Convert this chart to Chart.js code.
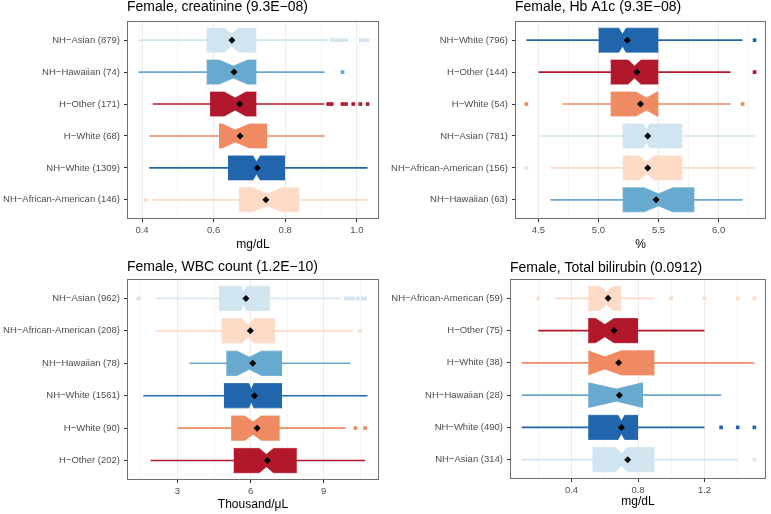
<!DOCTYPE html>
<html><head><meta charset="utf-8">
<script src="https://cdn.jsdelivr.net/npm/chart.js@4.4.1/dist/chart.umd.min.js"></script>
<style>
html,body{margin:0;padding:0;background:#fff;}
#wrap{position:relative;width:771px;height:514px;overflow:hidden;background:#fff;}
.p{position:absolute;}
canvas{display:block;}
</style></head><body>
<div id="wrap">
<div class="p" style="left:0;top:0;width:385px;height:257px"><canvas id="c1" width="385" height="257"></canvas></div>
<div class="p" style="left:385px;top:0;width:386px;height:257px"><canvas id="c2" width="386" height="257"></canvas></div>
<div class="p" style="left:0;top:257px;width:385px;height:257px"><canvas id="c3" width="385" height="257"></canvas></div>
<div class="p" style="left:385px;top:257px;width:386px;height:257px"><canvas id="c4" width="386" height="257"></canvas></div>
</div>
<script>
// ---------- group colours (RdBu) ----------
const ASIAN = '#D1E5F0', HAWAIIAN = '#67A9CF', HOTHER = '#B2182B', HWHITE = '#EF8A62', NHWHITE = '#2166AC', AFAM = '#FDDBC7';

// ---------- Panel 1: creatinine ----------
const title1 = 'Female, creatinine (9.3E\u221208)';
const xTitle1 = 'mg/dL';
const cats1 = ['NH\u2212Asian (879)', 'NH\u2212Hawaiian (74)', 'H\u2212Other (171)', 'H\u2212White (68)', 'NH\u2212White (1309)', 'NH\u2212African-American (146)'];
const colors1 = [ASIAN, HAWAIIAN, HOTHER, HWHITE, NHWHITE, AFAM];
const lo1 = [0.39, 0.39, 0.43, 0.42, 0.42, 0.43];
const q1_1 = [0.58, 0.58, 0.59, 0.615, 0.64, 0.67];
const notchLo1 = [0.63, 0.615, 0.63, 0.625, 0.71, 0.71];
const med1 = [0.65, 0.655, 0.66, 0.66, 0.72, 0.75];
const notchHi1 = [0.67, 0.695, 0.69, 0.70, 0.73, 0.79];
const q3_1 = [0.72, 0.72, 0.72, 0.75, 0.80, 0.84];
const hi1 = [0.92, 0.91, 0.91, 0.91, 1.03, 1.03];
const mean1 = [0.651, 0.657, 0.673, 0.674, 0.722, 0.746];
const out1 = [[0.93, 0.94, 0.95, 0.96, 0.97, 1.01, 1.02, 1.03], [0.96], [0.92, 0.93, 0.96, 0.97, 0.99, 1.01, 1.03], [], [], [0.41]];
const xMajor1 = [0.4, 0.6, 0.8, 1.0];
const xLabels1 = ['0.4', '0.6', '0.8', '1.0'];
const xMinor1 = [0.5, 0.7, 0.9];

// ---------- Panel 2: Hb A1c ----------
const title2 = 'Female, Hb A1c (9.3E\u221208)';
const xTitle2 = '%';
const cats2 = ['NH\u2212White (796)', 'H\u2212Other (144)', 'H\u2212White (54)', 'NH\u2212Asian (781)', 'NH\u2212African-American (156)', 'NH\u2212Hawaiian (63)'];
const colors2 = [NHWHITE, HOTHER, HWHITE, ASIAN, AFAM, HAWAIIAN];
const lo2 = [4.4, 4.5, 4.7, 4.5, 4.6, 4.6];
const q1_2 = [5.0, 5.1, 5.1, 5.2, 5.2, 5.2];
const notchLo2 = [5.17, 5.247, 5.314, 5.372, 5.337, 5.381];
const med2 = [5.2, 5.3, 5.4, 5.4, 5.4, 5.5];
const notchHi2 = [5.23, 5.353, 5.486, 5.428, 5.463, 5.619];
const q3_2 = [5.5, 5.5, 5.5, 5.7, 5.7, 5.8];
const hi2 = [6.2, 6.1, 6.1, 6.3, 6.3, 6.2];
const mean2 = [5.24, 5.32, 5.35, 5.41, 5.41, 5.48];
const out2 = [[6.3], [6.3], [4.4, 6.2], [], [4.4], []];
const xMajor2 = [4.5, 5.0, 5.5, 6.0];
const xLabels2 = ['4.5', '5.0', '5.5', '6.0'];
const xMinor2 = [4.75, 5.25, 5.75, 6.25];

// ---------- Panel 3: WBC count ----------
const title3 = 'Female, WBC count (1.2E\u221210)';
const xTitle3 = 'Thousand/\u03bcL';
const cats3 = ['NH\u2212Asian (962)', 'NH\u2212African-American (208)', 'NH\u2212Hawaiian (78)', 'NH\u2212White (1561)', 'H\u2212White (90)', 'H\u2212Other (202)'];
const colors3 = [ASIAN, AFAM, HAWAIIAN, NHWHITE, HWHITE, HOTHER];
const lo3 = [2.1, 2.1, 3.5, 1.6, 3.0, 1.9];
const q1_3 = [4.7, 4.8, 5.0, 4.9, 5.2, 5.3];
const notchLo3 = [5.6, 5.65, 5.45, 5.93, 5.77, 6.36];
const med3 = [5.72, 5.9, 5.95, 6.03, 6.1, 6.65];
const notchHi3 = [5.84, 6.15, 6.45, 6.13, 6.43, 6.94];
const q3_3 = [6.8, 7.0, 7.3, 7.3, 7.2, 7.9];
const hi3 = [9.7, 10.2, 10.1, 10.8, 9.9, 10.7];
const mean3 = [5.81, 5.99, 6.09, 6.16, 6.27, 6.69];
const out3 = [[1.4, 9.9, 10.0, 10.1, 10.2, 10.4, 10.6, 10.7], [10.5], [], [], [10.3, 10.7], []];
const xMajor3 = [3, 6, 9];
const xLabels3 = ['3', '6', '9'];
const xMinor3 = [1.5, 4.5, 7.5, 10.5];

// ---------- Panel 4: Total bilirubin ----------
const title4 = 'Female, Total bilirubin (0.0912)';
const xTitle4 = 'mg/dL';
const cats4 = ['NH\u2212African-American (59)', 'H\u2212Other (75)', 'H\u2212White (38)', 'NH\u2212Hawaiian (28)', 'NH\u2212White (490)', 'NH\u2212Asian (314)'];
const colors4 = [AFAM, HOTHER, HWHITE, HAWAIIAN, NHWHITE, ASIAN];
const lo4 = [0.3, 0.2, 0.1, 0.1, 0.1, 0.1];
const q1_4 = [0.5, 0.5, 0.5, 0.5, 0.5, 0.525];
const notchLo4 = [0.57, 0.545, 0.5, 0.51, 0.68, 0.665];
const med4 = [0.61, 0.6, 0.6, 0.67, 0.7, 0.7];
const notchHi4 = [0.65, 0.655, 0.7, 0.82, 0.72, 0.735];
const q3_4 = [0.7, 0.8, 0.9, 0.83, 0.8, 0.9];
const hi4 = [0.9, 1.2, 1.5, 1.3, 1.2, 1.4];
const mean4 = [0.62, 0.656, 0.684, 0.688, 0.70, 0.738];
const out4 = [[0.2, 1.0, 1.2, 1.4, 1.5], [], [], [], [1.3, 1.4, 1.5], [1.5]];
const xMajor4 = [0.4, 0.8, 1.2];
const xLabels4 = ['0.4', '0.8', '1.2'];
const xMinor4 = [0.2, 0.6, 1.0, 1.4];

// ---------- rendering ----------
Chart.defaults.font.family = "'Liberation Sans', Arial, Helvetica, sans-serif";

const framePlugin = {
  id: 'frame',
  afterDatasetsDraw(chart) {
    const a = chart.chartArea, ctx = chart.ctx;
    ctx.save();
    ctx.strokeStyle = '#6E6E6E';
    ctx.lineWidth = 1;
    ctx.strokeRect(Math.round(a.left) + 0.5, Math.round(a.top) + 0.5, Math.round(a.right - a.left) - 1, Math.round(a.bottom - a.top) - 1);
    ctx.restore();
  }
};

function dataRange(lo, hi, outs) {
  let mn = Infinity, mx = -Infinity;
  lo.forEach(v => { mn = Math.min(mn, v); });
  hi.forEach(v => { mx = Math.max(mx, v); });
  outs.forEach(a => a.forEach(v => { mn = Math.min(mn, v); mx = Math.max(mx, v); }));
  const pad = (mx - mn) * 0.05;
  return [mn - pad, mx + pad];
}

function makePanel(id, P, L) {
  const HW = 0.375, NW = 0.1875;
  const [xMin, xMax] = dataRange(P.lo, P.hi, P.out);
  const base = { xAxisID: 'x', yAxisID: 'y', showLine: true, pointRadius: 0, pointHoverRadius: 0, tension: 0 };
  const datasets = [];
  P.cats.forEach((c, i) => {
    datasets.push(Object.assign({}, base, {
      data: [{ x: P.lo[i], y: i }, { x: P.hi[i], y: i }],
      borderColor: P.colors[i], borderWidth: 1.6, fill: false, order: 4
    }));
  });
  P.cats.forEach((c, i) => {
    const top = [P.q1[i], P.nlo[i], P.med[i], P.nhi[i], P.q3[i]];
    const dy = [HW, HW, NW, HW, HW];
    datasets.push(Object.assign({}, base, {
      data: top.map((x, k) => ({ x: x, y: i - dy[k] })),
      borderColor: P.colors[i], borderWidth: 0.8, backgroundColor: P.colors[i], fill: '+1', order: 3
    }));
    datasets.push(Object.assign({}, base, {
      data: top.map((x, k) => ({ x: x, y: i + dy[k] })),
      borderColor: P.colors[i], borderWidth: 0.8, backgroundColor: P.colors[i], fill: false, order: 3
    }));
  });
  P.cats.forEach((c, i) => {
    if (!P.out[i].length) return;
    datasets.push({
      xAxisID: 'x', yAxisID: 'y', showLine: false,
      data: P.out[i].map(v => ({ x: v, y: i })),
      pointStyle: 'rect', pointRadius: 2.6, pointHoverRadius: 2.6, pointBorderWidth: 0,
      pointBackgroundColor: P.colors[i], backgroundColor: P.colors[i], borderColor: P.colors[i], order: 2
    });
  });
  datasets.push({
    xAxisID: 'x', yAxisID: 'y', showLine: false,
    data: P.mean.map((v, i) => ({ x: v, y: i })),
    pointStyle: 'rectRot', pointRadius: 3.5, pointHoverRadius: 3.5, pointBorderWidth: 0,
    pointBackgroundColor: '#000', backgroundColor: '#000', borderColor: '#000', order: 1
  });

  const allTicks = P.major.concat(P.minor).filter(v => v >= xMin && v <= xMax).sort((a, b) => a - b);
  const isMajor = v => P.major.some(m => Math.abs(m - v) < 1e-9);
  const labelOf = v => { const k = P.major.findIndex(m => Math.abs(m - v) < 1e-9); return k >= 0 ? P.labels[k] : ''; };

  new Chart(document.getElementById(id), {
    type: 'scatter',
    data: { datasets },
    plugins: [framePlugin],
    options: {
      responsive: false, animation: false, events: [], devicePixelRatio: 1,
      layout: { padding: { left: 0, top: 0, right: L.r, bottom: 0 }, autoPadding: false },
      plugins: { legend: { display: false }, tooltip: { enabled: false }, title: { display: false } },
      scales: {
        x: {
          type: 'linear', position: 'bottom', min: xMin, max: xMax, bounds: 'data',
          afterBuildTicks: s => { s.ticks = allTicks.map(v => ({ value: v })); },
          afterFit: s => { s.height = L.xh; },
          ticks: { autoSkip: false, maxRotation: 0, padding: 3, color: '#4D4D4D', font: { size: 9.5 }, callback: v => labelOf(v) },
          grid: {
            drawOnChartArea: true, drawTicks: true, tickLength: 3,
            color: c => (c.tick && isMajor(c.tick.value)) ? '#EBEBEB' : '#F3F3F3',
            lineWidth: c => (c.tick && isMajor(c.tick.value)) ? 1 : 0.8,
            tickColor: c => (c.tick && isMajor(c.tick.value)) ? '#333333' : 'rgba(0,0,0,0)',
            tickWidth: 1
          },
          border: { display: false },
          title: { display: true, text: P.xTitle, color: '#000', font: { size: 12, lineHeight: 1 }, padding: { top: 0, bottom: L.xtp } }
        },
        xTop: {
          type: 'linear', position: 'top', min: xMin, max: xMax, display: true,
          afterFit: s => { s.height = L.t; },
          ticks: { display: false },
          grid: { display: false, drawTicks: false },
          border: { display: false },
          title: { display: true, text: P.title, align: 'start', color: '#000', font: { size: 14, lineHeight: 1 }, padding: { top: L.ttp, bottom: 0 } }
        },
        y: {
          type: 'linear', position: 'left', min: -0.6, max: 5.6, reverse: true, bounds: 'data',
          afterBuildTicks: s => { s.ticks = P.cats.map((c, i) => ({ value: i })); },
          afterFit: s => { s.width = L.w; },
          ticks: { autoSkip: false, padding: 4, color: '#4D4D4D', font: { size: 9.5 }, callback: v => P.cats[v] },
          grid: { drawOnChartArea: false, drawTicks: true, tickLength: 3, tickColor: '#333333', tickWidth: 1 },
          border: { display: false }
        }
      }
    }
  });
}

makePanel('c1', { title: title1, xTitle: xTitle1, cats: cats1, colors: colors1, lo: lo1, q1: q1_1, nlo: notchLo1, med: med1, nhi: notchHi1, q3: q3_1, hi: hi1, mean: mean1, out: out1, major: xMajor1, labels: xLabels1, minor: xMinor1 },
  { w: 127, t: 21, r: 6, xh: 38, ttp: 0, xtp: 6.7 });
makePanel('c2', { title: title2, xTitle: xTitle2, cats: cats2, colors: colors2, lo: lo2, q1: q1_2, nlo: notchLo2, med: med2, nhi: notchHi2, q3: q3_2, hi: hi2, mean: mean2, out: out2, major: xMajor2, labels: xLabels2, minor: xMinor2 },
  { w: 130, t: 21, r: 5, xh: 38, ttp: 0, xtp: 6.7 });
makePanel('c3', { title: title3, xTitle: xTitle3, cats: cats3, colors: colors3, lo: lo3, q1: q1_3, nlo: notchLo3, med: med3, nhi: notchHi3, q3: q3_3, hi: hi3, mean: mean3, out: out3, major: xMajor3, labels: xLabels3, minor: xMinor3 },
  { w: 127, t: 22, r: 6, xh: 34, ttp: 3, xtp: 3.6 });
makePanel('c4', { title: title4, xTitle: xTitle4, cats: cats4, colors: colors4, lo: lo4, q1: q1_4, nlo: notchLo4, med: med4, nhi: notchHi4, q3: q3_4, hi: hi4, mean: mean4, out: out4, major: xMajor4, labels: xLabels4, minor: xMinor4 },
  { w: 125, t: 22, r: 5, xh: 35, ttp: 4, xtp: 6.6 });
</script>
</body></html>
